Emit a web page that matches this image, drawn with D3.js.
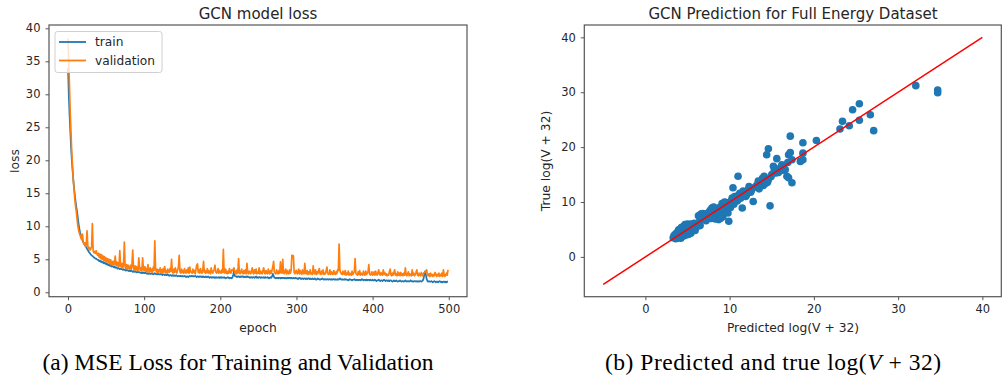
<!DOCTYPE html>
<html>
<head>
<meta charset="utf-8">
<script src="https://cdn.jsdelivr.net/npm/d3@7"></script>
<style>
  body { margin: 0; background: #fff; }
  svg { display: block; }
  .tick text { font-family: "DejaVu Sans", sans-serif; font-size: 11.5px; fill: #262626; }
</style>
</head>
<body>
<svg id="fig" width="1005" height="377"></svg>
<script>
// ---- (a) loss history, one value per epoch ----
const trainLoss = [
  34.0, 30.0, 27.0, 24.5, 22.0, 20.0, 18.5, 17.0, 15.8, 14.7, 13.7, 12.9, 12.2, 11.2, 10.3, 9.6, 9.0, 8.6, 8.2, 7.9,
  7.6, 7.4, 7.2, 7.0, 6.8, 6.6, 6.4, 6.2, 6.0, 5.9, 5.7, 5.6, 5.5, 5.4, 5.3, 5.2, 5.1, 5.1, 5.0, 4.9,
  4.9, 4.7, 4.8, 4.6, 4.7, 4.5, 4.6, 4.4, 4.5, 4.3, 4.4, 4.2, 4.3, 4.1, 4.2, 4.0, 4.1, 3.9, 4.0, 3.9,
  3.8, 3.9, 3.7, 3.8, 3.7, 3.6, 3.7, 3.6, 3.5, 3.6, 3.5, 3.5, 3.4, 3.5, 3.4, 3.4, 3.3, 3.4, 3.3, 3.3,
  3.2, 3.3, 3.2, 3.3, 3.2, 3.1, 3.2, 3.1, 3.2, 3.1, 3.0, 3.1, 3.0, 3.1, 3.0, 3.0, 2.9, 3.0, 2.9, 3.0,
  2.9, 3.0, 2.9, 2.9, 2.8, 2.9, 2.8, 2.9, 2.8, 2.8, 2.9, 2.8, 2.7, 2.8, 2.9, 2.8, 2.7, 2.8, 2.7, 2.8,
  2.7, 2.7, 2.8, 2.7, 2.6, 2.7, 2.7, 2.6, 2.7, 2.6, 2.6, 2.7, 2.6, 2.5, 2.6, 2.6, 2.5, 2.6, 2.5, 2.6,
  2.5, 2.5, 2.6, 2.5, 2.4, 2.5, 2.5, 2.4, 2.5, 2.4, 2.5, 2.4, 2.4, 2.5, 2.4, 2.3, 2.4, 2.4, 2.3, 2.4,
  2.5, 2.4, 2.5, 2.4, 2.5, 2.4, 2.4, 2.5, 2.4, 2.3, 2.4, 2.4, 2.3, 2.4, 2.4, 2.3, 2.4, 2.3, 2.4, 2.3,
  2.3, 2.4, 2.3, 2.3, 2.4, 2.3, 2.2, 2.3, 2.3, 2.2, 2.3, 2.3, 2.2, 2.3, 2.2, 2.3, 2.2, 2.2, 2.3, 2.2,
  2.3, 2.2, 2.3, 2.2, 2.2, 2.3, 2.2, 2.1, 2.2, 2.2, 2.3, 2.2, 2.1, 2.2, 2.2, 2.1, 2.3, 2.6, 3.3, 2.5,
  2.4, 2.4, 2.3, 2.4, 2.4, 2.3, 2.4, 2.3, 2.4, 2.4, 2.3, 2.4, 2.3, 2.3, 2.4, 2.3, 2.4, 2.3, 2.3, 2.2,
  2.3, 2.3, 2.2, 2.3, 2.3, 2.2, 2.3, 2.4, 2.2, 2.3, 2.2, 2.3, 2.3, 2.2, 2.3, 2.2, 2.2, 2.3, 2.2, 2.3,
  2.2, 2.2, 2.3, 2.2, 2.1, 2.2, 2.3, 2.2, 2.4, 2.8, 2.5, 2.2, 2.2, 2.1, 2.2, 2.2, 2.1, 2.2, 2.2, 2.1,
  2.2, 2.1, 2.2, 2.2, 2.1, 2.2, 2.1, 2.1, 2.2, 2.1, 2.2, 2.2, 2.1, 2.2, 2.1, 2.1, 2.2, 2.1, 2.1, 2.2,
  2.1, 2.1, 2.0, 2.1, 2.2, 2.1, 2.0, 2.1, 2.1, 2.0, 2.1, 2.1, 2.0, 2.1, 2.0, 2.1, 2.1, 2.0, 2.1, 2.0,
  2.0, 2.1, 2.0, 2.0, 2.1, 2.0, 1.9, 2.0, 2.1, 2.0, 2.0, 1.9, 2.0, 2.0, 2.1, 2.0, 1.9, 2.0, 2.0, 1.9,
  2.0, 2.0, 1.9, 2.0, 2.0, 1.9, 2.0, 1.9, 2.0, 2.0, 1.9, 2.0, 1.9, 1.9, 2.0, 1.9, 2.0, 2.1, 2.0, 1.9,
  2.0, 1.9, 1.9, 2.0, 1.9, 2.0, 1.9, 1.9, 1.8, 1.9, 2.0, 1.9, 1.9, 1.8, 1.9, 1.9, 2.0, 1.9, 1.8, 1.9,
  1.9, 1.8, 1.9, 1.9, 1.8, 1.9, 2.0, 1.9, 1.8, 1.9, 1.9, 1.8, 1.9, 1.8, 1.9, 1.9, 1.8, 1.9, 1.8, 1.8,
  1.9, 1.8, 1.8, 1.9, 1.8, 1.7, 1.8, 1.8, 1.9, 1.8, 1.7, 1.8, 1.8, 1.7, 1.8, 1.9, 1.8, 1.7, 1.8, 1.8,
  1.7, 1.8, 1.7, 1.8, 1.8, 1.7, 1.6, 1.7, 1.8, 1.7, 1.7, 1.8, 1.7, 1.6, 1.7, 1.7, 1.8, 1.7, 1.6, 1.7,
  1.7, 1.6, 1.7, 1.8, 1.7, 1.6, 1.7, 1.7, 1.6, 1.7, 1.8, 1.7, 1.6, 1.7, 1.6, 1.7, 1.7, 1.6, 1.7, 1.6,
  1.7, 1.6, 1.7, 1.7, 1.6, 1.7, 1.8, 2.1, 2.8, 3.2, 2.6, 2.0, 1.7, 1.6, 1.7, 1.6, 1.6, 1.7, 1.6, 1.5,
  1.6, 1.7, 1.6, 1.5, 1.6, 1.6, 1.5, 1.6, 1.7, 1.6, 1.5, 1.6, 1.5, 1.6, 1.6, 1.5, 1.6, 1.5, 1.6, 1.6
];
const valLoss = [
  38.5, 35.0, 31.0, 27.0, 24.0, 21.0, 19.0, 17.0, 15.5, 14.0, 13.0, 12.2, 11.0, 10.0, 9.4, 8.9, 8.6, 8.2, 8.0, 8.8,
  7.6, 7.3, 7.5, 7.0, 7.2, 9.3, 7.0, 6.6, 6.8, 6.4, 6.6, 6.9, 10.4, 6.3, 6.0, 6.2, 5.9, 6.3, 5.8, 5.6,
  5.9, 5.3, 5.8, 5.1, 5.7, 5.0, 5.5, 4.8, 5.4, 4.7, 5.2, 4.6, 5.1, 4.5, 5.0, 4.3, 4.9, 4.2, 4.7, 4.1,
  4.7, 4.2, 5.5, 4.1, 4.6, 4.0, 4.5, 3.9, 6.3, 4.0, 3.8, 4.4, 3.7, 4.3, 7.6, 3.8, 3.6, 4.2, 3.5, 4.1,
  3.6, 3.5, 4.1, 3.5, 4.2, 6.4, 3.6, 3.4, 4.0, 3.3, 3.9, 3.4, 3.3, 5.2, 3.8, 3.3, 3.7, 3.2, 5.2, 3.5,
  3.3, 3.9, 3.2, 3.6, 3.1, 4.2, 3.3, 3.0, 3.7, 3.2, 3.5, 3.0, 3.8, 3.3, 7.8, 3.6, 3.1, 3.5, 3.0, 3.4,
  3.1, 3.7, 3.0, 3.4, 2.9, 3.6, 3.1, 3.9, 3.0, 3.3, 2.9, 3.5, 3.1, 3.0, 3.6, 3.2, 5.0, 3.1, 2.9, 3.5,
  3.0, 3.7, 3.1, 2.9, 3.4, 3.8, 5.6, 3.1, 2.9, 3.5, 3.0, 3.3, 2.9, 3.6, 3.0, 2.9, 3.4, 3.0, 3.7, 2.9,
  3.8, 3.1, 3.0, 2.9, 3.5, 3.0, 3.3, 2.8, 3.4, 4.1, 4.3, 3.0, 3.4, 2.9, 3.6, 3.0, 2.9, 3.4, 4.7, 3.0,
  3.3, 2.9, 3.0, 3.6, 2.9, 3.3, 3.0, 2.8, 3.7, 3.1, 2.9, 3.2, 3.5, 4.1, 3.1, 2.9, 3.0, 3.6, 2.9, 3.3,
  3.0, 2.9, 3.4, 3.0, 6.5, 3.0, 2.9, 3.5, 3.0, 2.8, 3.2, 2.9, 3.6, 3.0, 2.9, 3.4, 3.3, 3.5, 3.7, 2.9,
  3.2, 2.8, 3.4, 2.9, 5.1, 3.0, 2.8, 3.1, 3.5, 2.9, 2.8, 3.3, 2.9, 3.4, 2.8, 4.4, 3.0, 2.8, 3.2, 3.0,
  2.8, 3.3, 3.7, 2.9, 2.8, 3.4, 2.9, 3.5, 2.8, 3.0, 2.9, 3.7, 2.8, 3.2, 2.9, 2.8, 3.3, 3.7, 2.9, 2.8,
  3.3, 2.9, 2.8, 3.5, 2.9, 2.8, 3.3, 2.9, 3.4, 3.9, 4.7, 3.1, 2.9, 2.8, 3.4, 2.9, 2.8, 3.3, 2.9, 4.6,
  3.0, 2.9, 5.0, 3.0, 2.8, 3.2, 3.5, 2.8, 3.3, 2.9, 2.8, 3.4, 2.9, 3.3, 5.6, 5.6, 5.5, 3.0, 2.8, 3.2,
  3.3, 2.8, 2.9, 3.5, 2.8, 3.3, 2.9, 2.7, 3.4, 2.9, 2.8, 4.4, 2.9, 2.8, 3.3, 2.7, 3.1, 2.8, 3.4, 2.8,
  2.9, 2.7, 4.0, 2.9, 2.8, 3.4, 2.7, 3.1, 2.8, 3.3, 3.6, 2.8, 2.7, 3.2, 2.8, 3.4, 2.7, 2.9, 2.8, 3.3,
  3.8, 2.9, 2.7, 2.8, 3.4, 2.7, 3.1, 2.8, 2.7, 3.3, 2.8, 2.7, 3.1, 2.8, 3.4, 3.3, 7.3, 3.4, 3.0, 2.8,
  2.7, 3.2, 2.8, 2.7, 3.3, 2.6, 2.9, 2.7, 3.2, 2.6, 2.9, 2.7, 2.6, 3.2, 2.7, 2.9, 3.1, 5.1, 2.9, 2.7,
  2.6, 3.1, 2.7, 3.3, 2.6, 2.9, 2.7, 2.6, 3.2, 2.7, 2.6, 3.2, 2.7, 2.9, 3.1, 4.2, 2.8, 2.6, 2.7, 3.1,
  2.6, 2.7, 3.1, 2.6, 3.2, 2.7, 2.6, 3.0, 3.4, 2.7, 2.6, 3.0, 2.7, 2.6, 3.4, 2.7, 3.0, 2.6, 2.8, 2.5,
  2.7, 2.6, 3.1, 3.5, 2.7, 2.5, 2.9, 2.6, 3.0, 3.4, 2.6, 2.8, 2.5, 3.1, 2.6, 2.9, 2.5, 3.0, 2.6, 2.8,
  2.5, 2.9, 2.6, 3.7, 2.7, 2.5, 2.8, 3.1, 2.5, 2.8, 2.6, 2.5, 3.4, 2.6, 2.9, 2.5, 2.7, 3.0, 3.4, 2.6,
  2.5, 2.9, 2.6, 2.5, 3.0, 2.6, 2.5, 2.9, 3.0, 3.1, 3.2, 3.4, 2.7, 2.5, 2.8, 2.4, 2.9, 2.5, 2.7, 2.4,
  2.7, 2.5, 3.0, 2.8, 2.4, 2.7, 2.5, 2.9, 2.4, 2.7, 2.5, 2.9, 2.4, 3.4, 2.6, 2.4, 2.6, 2.9, 2.6, 3.4
];
const lossXTicks = [0, 100, 200, 300, 400, 500];
const lossYTicks = [0, 5, 10, 15, 20, 25, 30, 35, 40];

// ---- (b) predicted vs true log(V + 32) ----
const predicted = [
  3.3, 3.5, 3.7, 3.8, 4.0, 4.1, 4.3, 4.4, 4.5, 4.6, 4.8, 4.9, 5.0, 5.2, 5.3, 5.5, 5.6, 5.8, 6.0, 4.7,
  5.0, 5.4, 5.8, 6.2, 3.6, 3.9, 4.2, 4.5, 6.5,
  3.4, 3.6, 3.9, 4.2, 4.4, 4.7, 5.1, 5.4, 3.8, 4.0, 4.3, 4.6, 4.9, 5.2, 5.5, 6.0, 6.1, 5.7, 5.9, 6.4,
  6.3, 6.6, 6.8, 7.0, 7.2, 7.5, 7.6, 7.8, 8.0, 8.2, 8.3, 8.5, 8.6, 8.8, 9.0, 9.2, 9.3, 9.5, 9.6, 9.8,
  6.5, 6.8, 7.1, 7.3, 7.7, 7.9, 8.1, 8.4, 8.7, 8.9, 9.1, 9.4, 9.7, 10.1, 10.3, 10.6, 10.9, 11.2, 11.6, 11.9,
  9.9, 10.0, 10.2, 10.4, 10.5, 10.8, 11.0, 11.0, 11.3, 11.5, 11.7, 12.0, 12.2, 12.5, 12.8, 13.0, 13.2, 13.5, 13.7, 14.0,
  12.3, 12.6, 13.4, 13.9, 14.3, 14.9, 15.3, 15.8, 16.2, 16.9,
  14.2, 14.5, 14.6, 14.8, 14.1, 14.4, 14.6, 15.2, 15.6, 16.0, 15.0, 15.5, 16.3, 16.6, 16.8, 17.0, 17.4, 17.0, 17.2, 17.4,
  17.2, 18.4, 18.7, 18.7, 18.7, 20.3, 23.1, 23.4, 24.2, 24.6, 25.4, 25.4, 26.7, 27.1, 32.1, 34.7, 34.7
];
const trueVals = [
  3.5, 3.6, 3.4, 3.9, 3.6, 4.2, 3.8, 4.5, 4.0, 4.7, 4.3, 5.0, 4.4, 4.9, 5.5, 4.7, 5.2, 5.8, 5.3, 5.9,
  6.0, 6.0, 6.1, 6.0, 4.2, 4.8, 5.1, 5.4, 5.7,
  3.9, 3.3, 3.5, 3.4, 3.7, 3.9, 4.1, 4.3, 4.4, 5.0, 5.4, 5.6, 5.7, 5.8, 5.9, 6.0, 5.6, 5.0, 4.8, 6.4,
  7.5, 7.8, 7.2, 7.0, 6.6, 7.4, 8.2, 7.0, 8.6, 7.8, 6.9, 8.8, 7.6, 9.0, 8.2, 7.3, 9.5, 8.7, 9.9, 8.0,
  7.5, 7.9, 7.6, 7.9, 8.5, 8.9, 9.1, 7.0, 6.8, 7.0, 9.7, 10.0, 9.4, 9.0, 10.7, 11.0, 10.2, 11.6, 12.0, 11.0,
  6.5, 9.3, 10.2, 12.6, 9.6, 10.5, 14.7, 11.2, 10.7, 8.9, 11.6, 11.3, 12.2, 11.8, 10.1, 12.7, 13.0, 12.4, 13.4, 13.0,
  12.8, 12.2, 13.8, 14.3, 13.4, 14.6, 15.7, 15.4, 16.8, 17.2,
  14.0, 13.6, 14.1, 9.3, 14.7, 18.6, 19.7, 16.5, 17.9, 16.2, 15.0, 15.3, 15.8, 15.9, 14.7, 14.4, 13.5, 18.6, 19.0, 17.7,
  22.0, 17.4, 17.7, 18.9, 20.8, 21.2, 23.3, 24.7, 23.9, 26.8, 27.9, 24.9, 25.9, 23.0, 31.2, 30.4, 29.9
];
const fitLine = [-5, 40];
const scatterTicks = [0, 10, 20, 30, 40];

const blue = '#1f77b4', orange = '#ff7f0e';
const spine = '#555';
const svg = d3.select('#fig');

function drawAxes(g, x, y, xTicks, yTicks) {
  const [x0, x1] = x.range(), [y1, y0] = y.range();
  g.append('g').attr('transform', `translate(0,${y1})`)
    .call(d3.axisBottom(x).tickValues(xTicks).tickSize(3.5).tickPadding(5))
    .call(a => a.select('.domain').remove());
  g.append('g').attr('transform', `translate(${x0},0)`)
    .call(d3.axisLeft(y).tickValues(yTicks).tickSize(3.5).tickPadding(5))
    .call(a => a.select('.domain').remove());
  g.selectAll('.tick line').attr('stroke', spine).attr('stroke-width', 1);
  g.append('rect')
    .attr('x', x0).attr('y', y0).attr('width', x1 - x0).attr('height', y1 - y0)
    .attr('fill', 'none').attr('stroke', spine).attr('stroke-width', 1.2);
}

function label(g, txt, x, y, size, rotate) {
  g.append('text')
    .attr('transform', `translate(${x},${y})` + (rotate ? ' rotate(-90)' : ''))
    .attr('text-anchor', 'middle')
    .style('font-family', '"DejaVu Sans", sans-serif')
    .style('font-size', size + 'px')
    .style('fill', '#262626')
    .text(txt);
}

// ---------- (a) loss ----------
const lossG = svg.append('g');
const lx = d3.scaleLinear().domain([-24.95, 523.95]).range([49, 467]);
const ly = d3.scaleLinear().domain([-0.67, 40.5]).range([296.7, 25]);

const epochs = d3.range(trainLoss.length);
const lossLine = arr => d3.line().x(i => lx(i)).y(i => ly(arr[i]))(epochs);

lossG.append('path').attr('d', lossLine(trainLoss))
  .attr('fill', 'none').attr('stroke', blue).attr('stroke-width', 1.7).attr('stroke-linejoin', 'round');
lossG.append('path').attr('d', lossLine(valLoss))
  .attr('fill', 'none').attr('stroke', orange).attr('stroke-width', 1.7).attr('stroke-linejoin', 'round');

drawAxes(lossG, lx, ly, lossXTicks, lossYTicks);
label(lossG, 'GCN model loss', 258, 19, 15);
label(lossG, 'epoch', 258, 332, 12.3);
label(lossG, 'loss', 18.5, 161, 12.3, true);

// legend
const legend = lossG.append('g').attr('transform', 'translate(55,31.5)');
legend.append('rect').attr('width', 107).attr('height', 41).attr('rx', 2.5)
  .attr('fill', 'white').attr('fill-opacity', 0.8).attr('stroke', '#d0d0d0').attr('stroke-width', 1);
[['train', blue], ['validation', orange]].forEach(([name, col], i) => {
  const yy = 10.5 + i * 18.5;
  legend.append('line').attr('x1', 4).attr('x2', 31).attr('y1', yy).attr('y2', yy)
    .attr('stroke', col).attr('stroke-width', 1.8);
  legend.append('text').attr('x', 40).attr('y', yy + 4.3)
    .style('font-family', '"DejaVu Sans", sans-serif').style('font-size', '12.2px')
    .style('fill', '#262626').text(name);
});

// ---------- (b) prediction scatter ----------
const scG = svg.append('g');
const sx = d3.scaleLinear().domain([-7.25, 42.25]).range([584.3, 1001.3]);
const sy = d3.scaleLinear().domain([-7.25, 42.25]).range([296.7, 25]);

scG.selectAll('circle').data(d3.range(predicted.length)).join('circle')
  .attr('cx', i => sx(predicted[i])).attr('cy', i => sy(trueVals[i]))
  .attr('r', 3.8).attr('fill', blue);

scG.append('line')
  .attr('x1', sx(fitLine[0])).attr('y1', sy(fitLine[0]))
  .attr('x2', sx(fitLine[1])).attr('y2', sy(fitLine[1]))
  .attr('stroke', '#ff0000').attr('stroke-width', 1.5);

drawAxes(scG, sx, sy, scatterTicks, scatterTicks);
label(scG, 'GCN Prediction for Full Energy Dataset', 793, 19, 15);
label(scG, 'Predicted log(V + 32)', 793, 332, 12.3);
label(scG, 'True log(V + 32)', 549.5, 161, 12.3, true);

// ---------- captions ----------
const cap = svg.append('g')
  .style('font-family', '"Liberation Serif", "Times New Roman", serif')
  .style('font-size', '23.5px').style('fill', '#000');
cap.append('text').attr('x', 238).attr('y', 370).attr('text-anchor', 'middle')
  .text('(a) MSE Loss for Training and Validation');
const capB = cap.append('text').attr('x', 773).attr('y', 370).attr('text-anchor', 'middle')
  .attr('textLength', 336).attr('lengthAdjust', 'spacing');
capB.append('tspan').text('(b) Predicted and true log(');
capB.append('tspan').style('font-style', 'italic').text('V');
capB.append('tspan').text(' + 32)');
</script>
</body>
</html>
